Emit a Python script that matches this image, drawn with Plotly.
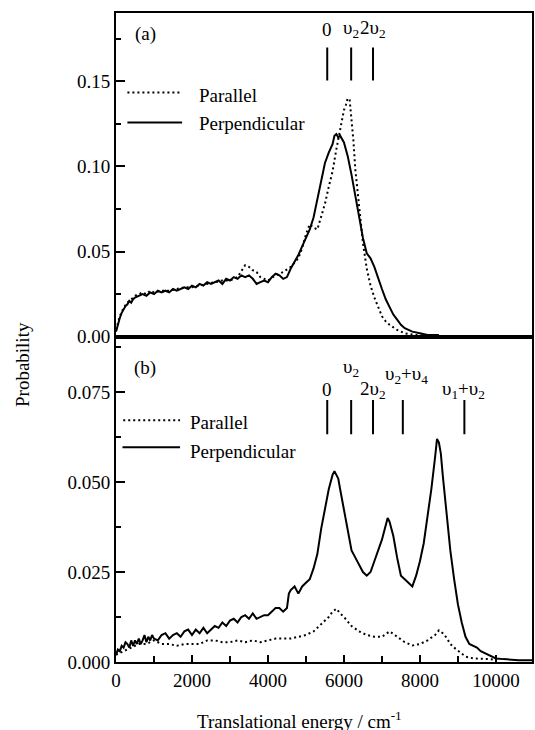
import plotly.graph_objects as go

# ---------------- data ----------------
# Panel (a)
a_perp_E = [0, 50, 100, 150, 200, 250, 300, 350, 400, 450, 500, 600, 700, 800, 900, 1000,
            1100, 1200, 1300, 1400, 1500, 1600, 1700, 1800, 1900, 2000, 2100, 2200, 2300,
            2400, 2500, 2600, 2700, 2800, 2900, 3000, 3100, 3200, 3300, 3400, 3500, 3600,
            3700, 3800, 3900, 4000, 4100, 4200, 4300, 4400, 4500, 4600, 4700, 4800, 4900,
            5000, 5100, 5200, 5300, 5400, 5500, 5600, 5700, 5750, 5800, 5850, 5900, 6000,
            6100, 6200, 6300, 6400, 6500, 6600, 6700, 6800, 6900, 7000, 7100, 7200, 7300,
            7400, 7500, 7600, 7700, 7800, 8000, 8200, 8500]
a_perp_P = [0.003, 0.008, 0.011, 0.014, 0.016, 0.018, 0.019, 0.021, 0.020, 0.022, 0.023,
            0.024, 0.025, 0.024, 0.026, 0.025, 0.027, 0.026, 0.027, 0.026, 0.028, 0.027,
            0.028, 0.029, 0.028, 0.030, 0.029, 0.031, 0.030, 0.032, 0.031, 0.032, 0.033,
            0.031, 0.034, 0.033, 0.035, 0.034, 0.036, 0.035, 0.036, 0.034, 0.031, 0.032,
            0.033, 0.032, 0.035, 0.037, 0.036, 0.034, 0.035, 0.040, 0.044, 0.048, 0.053,
            0.058, 0.063, 0.070, 0.080, 0.092, 0.102, 0.108, 0.113, 0.118, 0.119, 0.117,
            0.118, 0.114, 0.106, 0.095, 0.083, 0.071, 0.058, 0.049, 0.046, 0.041, 0.034,
            0.028, 0.022, 0.017, 0.013, 0.010, 0.007, 0.005, 0.004, 0.003, 0.002, 0.001,
            0.001]

a_par_E = [0, 100, 200, 300, 400, 500, 600, 700, 800, 900, 1000, 1200, 1400, 1600, 1800,
           2000, 2200, 2400, 2600, 2800, 3000, 3200, 3400, 3500, 3600, 3700, 3800, 3900,
           4000, 4200, 4400, 4600, 4800, 4900, 5000, 5100, 5200, 5300, 5400, 5500, 5600,
           5700, 5800, 5900, 6000, 6050, 6100, 6150, 6200, 6250, 6300, 6400, 6500, 6600,
           6700, 6800, 6900, 7000, 7100, 7200, 7400, 7600, 7900, 8500]
a_par_P = [0.004, 0.012, 0.017, 0.020, 0.022, 0.024, 0.025, 0.026, 0.025, 0.027, 0.026,
           0.027, 0.027, 0.028, 0.029, 0.029, 0.030, 0.031, 0.032, 0.033, 0.033, 0.035,
           0.042, 0.041, 0.039, 0.038, 0.035, 0.034, 0.033, 0.036, 0.038, 0.041, 0.046,
           0.052, 0.060, 0.066, 0.064, 0.063, 0.070, 0.078, 0.088, 0.097, 0.110, 0.122,
           0.133, 0.136, 0.140, 0.139, 0.128, 0.115, 0.098, 0.076, 0.055, 0.040, 0.030,
           0.023, 0.017, 0.012, 0.009, 0.007, 0.004, 0.002, 0.001, 0.000]

# Panel (b)
b_perp_E = [0, 50, 100, 150, 200, 250, 300, 350, 400, 450, 500, 550, 600, 650, 700, 750,
            800, 850, 900, 950, 1000, 1100, 1200, 1300, 1400,
            1500, 1600, 1700, 1800, 1900, 2000, 2100, 2200, 2300, 2400, 2500, 2600, 2700,
            2800, 2900, 3000, 3100, 3200, 3300, 3400, 3500, 3600, 3700, 3800, 3900, 4000,
            4100, 4200, 4300, 4400, 4500, 4550, 4600, 4700, 4800, 4900, 5000, 5100, 5200,
            5300, 5400, 5500, 5600, 5700, 5750, 5800, 5850, 5900, 6000, 6100, 6200, 6300,
            6400, 6500, 6600, 6700, 6800, 6900, 7000, 7100, 7150, 7200, 7300, 7400, 7500,
            7600, 7700, 7800, 7900, 8000, 8100, 8200, 8300, 8400, 8450, 8500, 8550, 8600,
            8700, 8800, 8900, 9000, 9100, 9200, 9300, 9400, 9500, 9600, 9700, 9800, 9900,
            10000, 10200, 10400, 10600, 10950]
b_perp_P = [0.002, 0.0035, 0.003, 0.0045, 0.004, 0.0055, 0.005, 0.004, 0.006, 0.0045,
            0.006, 0.005, 0.0065, 0.005, 0.006, 0.0075, 0.0055, 0.007, 0.006, 0.0075,
            0.0065, 0.006, 0.0075, 0.008, 0.0065,
            0.0075, 0.008, 0.007, 0.0085, 0.009, 0.0075, 0.009,
            0.008, 0.0095, 0.008, 0.009, 0.010, 0.0095, 0.011, 0.010, 0.0115, 0.012, 0.011,
            0.0125, 0.013, 0.012, 0.0135, 0.012, 0.0125, 0.013, 0.013, 0.014, 0.015, 0.015,
            0.014, 0.015, 0.019, 0.020, 0.021, 0.019, 0.021, 0.022, 0.023, 0.026, 0.030,
            0.037, 0.043, 0.048, 0.052, 0.053, 0.052, 0.051, 0.048, 0.042, 0.036, 0.031,
            0.029, 0.027, 0.025, 0.024, 0.025, 0.028, 0.031, 0.034, 0.038, 0.040, 0.039,
            0.035, 0.029, 0.024, 0.023, 0.022, 0.021, 0.024, 0.028, 0.033, 0.040, 0.048,
            0.057, 0.062, 0.061, 0.058, 0.052, 0.041, 0.031, 0.023, 0.016, 0.011, 0.007,
            0.005, 0.0045, 0.004, 0.003, 0.0025, 0.002, 0.0015, 0.001, 0.0008, 0.0006,
            0.0005, 0.0005]

b_par_E = [0, 200, 400, 600, 800, 1000, 1200, 1400, 1600, 1800, 2000, 2200, 2400, 2600,
           2800, 3000, 3200, 3400, 3600, 3800, 4000, 4200, 4400, 4600, 4800, 5000, 5200,
           5400, 5600, 5700, 5800, 5900, 6000, 6200, 6400, 6600, 6800, 7000, 7100, 7200,
           7300, 7400, 7600, 7800, 8000, 8200, 8400, 8500, 8600, 8700, 8800, 8900, 9000,
           9200, 9400, 9600, 9800, 10000]
b_par_P = [0.002, 0.003, 0.004, 0.005, 0.005, 0.006, 0.005, 0.005, 0.0045, 0.005, 0.005,
           0.005, 0.006, 0.006, 0.0055, 0.0055, 0.006, 0.0055, 0.006, 0.0055, 0.006,
           0.0065, 0.0065, 0.0065, 0.007, 0.0075, 0.0085, 0.0105, 0.0125, 0.014, 0.0148,
           0.0135, 0.0125, 0.010, 0.0085, 0.0075, 0.007, 0.007, 0.0078, 0.0085, 0.0078,
           0.007, 0.0055, 0.0046, 0.005, 0.006, 0.0075, 0.0088, 0.008, 0.0068, 0.005,
           0.004, 0.0032, 0.0015, 0.001, 0.001, 0.0008, 0.0006]

# vibrational markers (energy, label)
a_marker_E = [5560, 6190, 6765]
a_marker_labels = ["0", "υ<sub>2</sub>", "2υ<sub>2</sub>"]
b_marker_E = [5560, 6190, 6765, 7550, 9170]
b_marker_labels = ["0", "υ<sub>2</sub>", "2υ<sub>2</sub>", "υ<sub>2</sub>+υ<sub>4</sub>",
                   "υ<sub>1</sub>+υ<sub>2</sub>"]

x_ticks = [0, 2000, 4000, 6000, 8000, 10000]
x_tick_text = ["0", "2000", "4000", "6000", "8000", "10000"]
a_y_ticks = [0.0, 0.05, 0.10, 0.15]
b_y_ticks = [0.0, 0.025, 0.05, 0.075]

# ---------------- figure ----------------
FONT = "Liberation Serif, Times New Roman, Times, serif"
FS = 19
solid = dict(color="black", width=2)
dotted = dict(color="black", width=2, dash="2px,3px")

fig = go.Figure()
fig.add_trace(go.Scatter(x=a_par_E, y=a_par_P, mode="lines", line=dotted,
                         xaxis="x2", yaxis="y2", showlegend=False))
fig.add_trace(go.Scatter(x=a_perp_E, y=a_perp_P, mode="lines", line=solid,
                         xaxis="x2", yaxis="y2", showlegend=False))
fig.add_trace(go.Scatter(x=b_par_E, y=b_par_P, mode="lines", line=dotted,
                         xaxis="x", yaxis="y", showlegend=False))
fig.add_trace(go.Scatter(x=b_perp_E, y=b_perp_P, mode="lines", line=solid,
                         xaxis="x", yaxis="y", showlegend=False))

split = 0.5012
axis_common = dict(showline=True, linecolor="black", linewidth=2, mirror=True,
                   showgrid=False, zeroline=False, ticks="inside", tickcolor="black",
                   tickwidth=1.5, tickfont=dict(family=FONT, size=FS, color="black"))

fig.update_layout(
    width=535, height=730,
    margin=dict(l=116, r=1, t=13, b=68),
    paper_bgcolor="white", plot_bgcolor="white",
    font=dict(family=FONT, size=FS, color="black"),
    xaxis=dict(domain=[0, 1], anchor="y", range=[0, 10950], tickvals=x_ticks,
               ticktext=x_tick_text,
               ticklen=7, minor=dict(dtick=1000, ticks="inside", ticklen=6,
                                     tickcolor="black", tickwidth=1.5),
               **axis_common),
    yaxis=dict(domain=[0, split], anchor="x", range=[0, 0.0904], tickvals=b_y_ticks,
               tickformat=".3f", ticklen=9,
               minor=dict(dtick=0.0125, ticks="inside", ticklen=5, tickcolor="black",
                          tickwidth=1.5),
               **axis_common),
    xaxis2=dict(domain=[0, 1], anchor="y2", matches="x", range=[0, 10950],
                showticklabels=False, showline=True, linecolor="black", linewidth=2,
                mirror=True, showgrid=False, zeroline=False, ticks=""),
    yaxis2=dict(domain=[split, 1], anchor="x2", range=[0, 0.19], tickvals=a_y_ticks,
                tickformat=".2f", ticklen=9,
                minor=dict(dtick=0.025, ticks="inside", ticklen=5, tickcolor="black",
                           tickwidth=1.5),
                **axis_common),
)

shapes = []
annotations = []
# markers panel (a)
for e, lab in zip(a_marker_E, a_marker_labels):
    shapes.append(dict(type="line", xref="x2", yref="y2", x0=e, x1=e, y0=0.1504, y1=0.1698,
                       line=dict(color="black", width=2)))
    annotations.append(dict(xref="x2", yref="y2", x=e, y=0.1805, text=lab, showarrow=False,
                            font=dict(family=FONT, size=FS), xanchor="center",
                            yanchor="middle"))
# markers panel (b)
b_label_pos = [(5560, 0.0756), (6190, 0.0817), (6765, 0.0756), (7654, 0.0797), (9147, 0.0756)]
for e, lab, (lx, ly) in zip(b_marker_E, b_marker_labels, b_label_pos):
    shapes.append(dict(type="line", xref="x", yref="y", x0=e, x1=e, y0=0.0633, y1=0.0728,
                       line=dict(color="black", width=2)))
    annotations.append(dict(xref="x", yref="y", x=lx, y=ly, text=lab, showarrow=False,
                            font=dict(family=FONT, size=FS), xanchor="center",
                            yanchor="middle"))

# panel letters
annotations.append(dict(xref="x2", yref="y2", x=770, y=0.1775, text="(a)", showarrow=False,
                        font=dict(family=FONT, size=FS)))
annotations.append(dict(xref="x", yref="y", x=770, y=0.0817, text="(b)", showarrow=False,
                        font=dict(family=FONT, size=FS)))

# legend samples
shapes += [
    dict(type="line", xref="x2", yref="y2", x0=300, x1=1740, y0=0.1434, y1=0.1434, line=dotted),
    dict(type="line", xref="x2", yref="y2", x0=300, x1=1740, y0=0.1257, y1=0.1257, line=solid),
    dict(type="line", xref="x", yref="y", x0=190, x1=1686, y0=0.0672, y1=0.0672, line=dotted),
    dict(type="line", xref="x", yref="y", x0=170, x1=1686, y0=0.0597, y1=0.0597, line=solid),
]
annotations += [
    dict(xref="x2", yref="y2", x=2131, y=0.1417, text="Parallel", showarrow=False,
         xanchor="left", yanchor="middle", font=dict(family=FONT, size=FS)),
    dict(xref="x2", yref="y2", x=2131, y=0.1252, text="Perpendicular", showarrow=False,
         xanchor="left", yanchor="middle", font=dict(family=FONT, size=FS)),
    dict(xref="x", yref="y", x=1895, y=0.0667, text="Parallel", showarrow=False,
         xanchor="left", yanchor="middle", font=dict(family=FONT, size=FS)),
    dict(xref="x", yref="y", x=1895, y=0.0586, text="Perpendicular", showarrow=False,
         xanchor="left", yanchor="middle", font=dict(family=FONT, size=FS)),
]

# axis titles
annotations.append(dict(xref="paper", yref="paper", x=0, xshift=-94, y=0.4576,
                        text="Probability", textangle=-90, showarrow=False,
                        font=dict(family=FONT, size=FS), xanchor="center", yanchor="middle"))
annotations.append(dict(xref="paper", yref="paper", x=0.44, y=0, yshift=-58,
                        text="Translational energy / cm<sup>-1</sup>", showarrow=False,
                        font=dict(family=FONT, size=FS), xanchor="center", yanchor="middle"))

fig.update_layout(shapes=shapes, annotations=annotations)
fig.write_html("out.html")
